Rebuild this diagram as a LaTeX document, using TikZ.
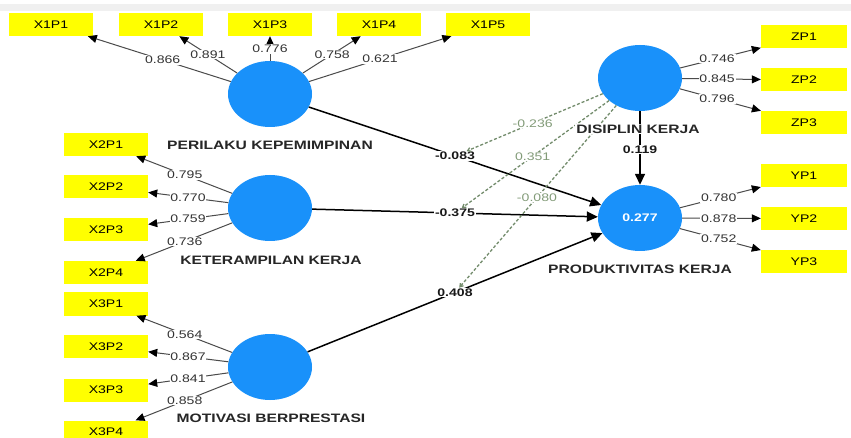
\documentclass[tikz,border=0pt]{standalone}
\usepackage{fontspec}
\newfontfamily\lfont{Liberation Sans}[FakeStretch=1.28]
\usetikzlibrary{shapes.geometric,arrows.meta}
\definecolor{lvblue}{RGB}{25,145,250}
\definecolor{boxyel}{RGB}{255,255,0}
\definecolor{modc}{RGB}{115,140,108}
\definecolor{modt}{RGB}{130,155,120}
\definecolor{loadc}{RGB}{75,75,75}
\begin{document}
\begin{tikzpicture}[x=1pt,y=-1pt,
 lv/.style={ellipse,fill=lvblue,minimum width=84pt,minimum height=66pt,inner sep=0pt},
 ind/.style={rectangle,fill=boxyel,minimum width=84pt,minimum height=23pt,inner sep=0pt,font=\lfont\fontsize{11}{13}\selectfont},
 indr/.style={ind,minimum width=86pt},
 lvname/.style={fill=white,inner sep=1pt,text=black!85,font=\lfont\bfseries\fontsize{12.2}{14}\selectfont},
 load/.style={draw=loadc,line width=1pt,-{Triangle[length=9pt,width=8pt,color=black]}},
 lbl/.style={fill=white,inner sep=0.8pt,text=black!80,font=\lfont\fontsize{11}{13}\selectfont},
 spath/.style={draw=black,line width=1.5pt,-{Triangle[length=11pt,width=10pt]}},
 plbl/.style={fill=white,inner sep=0.8pt,text=black!90,font=\lfont\bfseries\fontsize{11}{13}\selectfont},
 modl/.style={draw=modc,line width=1.3pt,dash pattern=on 3pt off 2pt,-{Straight Barb[length=3pt,width=4pt]}},
 mlbl/.style={fill=white,inner sep=0.5pt,text=modt,font=\lfont\fontsize{11}{13}\selectfont}]
\useasboundingbox (0,0) rectangle (851,438);
\fill[white] (0,0) rectangle (851,438);
\fill[black!6] (0,4) rectangle (851,11);

% latent variables
\node[lv] (X1) at (270,94) {};
\node[lv] (X2) at (270,208) {};
\node[lv] (X3) at (270,367) {};
\node[lv] (Z) at (640,78) {};
\node[lv,text=white,font=\lfont\bfseries\fontsize{11}{13}\selectfont] (Y) at (640,218) {0.277};

% indicators
\node[ind] (X1P1) at (51,24.5) {X1P1};
\node[ind] (X1P2) at (161,24.5) {X1P2};
\node[ind] (X1P3) at (270,24.5) {X1P3};
\node[ind] (X1P4) at (379,24.5) {X1P4};
\node[ind] (X1P5) at (488,24.5) {X1P5};
\node[ind] (X2P1) at (106,144.5) {X2P1};
\node[ind] (X2P2) at (106,187) {X2P2};
\node[ind] (X2P3) at (106,230) {X2P3};
\node[ind] (X2P4) at (106,272.5) {X2P4};
\node[ind] (X3P1) at (106,304) {X3P1};
\node[ind] (X3P2) at (106,346.5) {X3P2};
\node[ind] (X3P3) at (106,390) {X3P3};
\node[ind] (X3P4) at (106,432) {X3P4};
\node[indr] (ZP1) at (804,37) {ZP1};
\node[indr] (ZP2) at (804,80) {ZP2};
\node[indr] (ZP3) at (804,122.5) {ZP3};
\node[indr] (YP1) at (804,176) {YP1};
\node[indr] (YP2) at (804,218.5) {YP2};
\node[indr] (YP3) at (804,261.5) {YP3};

% outer loadings
\draw[load] (X1) -- (X1P1);
\draw[load] (X1) -- (X1P2);
\draw[load] (X1) -- (X1P3);
\draw[load] (X1) -- (X1P4);
\draw[load] (X1) -- (X1P5);
\path (X1.center) -- (X1P1.center) node[lbl,pos=0.49] {0.866};
\path (X1.center) -- (X1P2.center) node[lbl,pos=0.57] {0.891};
\path (X1.center) -- (X1P3.center) node[lbl,pos=0.65] {0.776};
\path (X1.center) -- (X1P4.center) node[lbl,pos=0.57] {0.758};
\path (X1.center) -- (X1P5.center) node[lbl,pos=0.505] {0.621};

\draw[load] (X2) -- (X2P1);
\draw[load] (X2) -- (X2P2);
\draw[load] (X2) -- (X2P3);
\draw[load] (X2) -- (X2P4);
\path (X2.center) -- (X2P1.center) node[lbl,pos=0.52] {0.795};
\path (X2.center) -- (X2P2.center) node[lbl,pos=0.5] {0.770};
\path (X2.center) -- (X2P3.center) node[lbl,pos=0.5] {0.759};
\path (X2.center) -- (X2P4.center) node[lbl,pos=0.52] {0.736};

\draw[load] (X3) -- (X3P1);
\draw[load] (X3) -- (X3P2);
\draw[load] (X3) -- (X3P3);
\draw[load] (X3) -- (X3P4);
\path (X3.center) -- (X3P1.center) node[lbl,pos=0.52] {0.564};
\path (X3.center) -- (X3P2.center) node[lbl,pos=0.5] {0.867};
\path (X3.center) -- (X3P3.center) node[lbl,pos=0.5] {0.841};
\path (X3.center) -- (X3P4.center) node[lbl,pos=0.52] {0.858};

\draw[load] (Z) -- (ZP1);
\draw[load] (Z) -- (ZP2);
\draw[load] (Z) -- (ZP3);
\path (Z.center) -- (ZP1.center) node[lbl,pos=0.47] {0.746};
\path (Z.center) -- (ZP2.center) node[lbl,pos=0.47] {0.845};
\path (Z.center) -- (ZP3.center) node[lbl,pos=0.47] {0.796};

\draw[load] (Y) -- (YP1);
\draw[load] (Y) -- (YP2);
\draw[load] (Y) -- (YP3);
\path (Y.center) -- (YP1.center) node[lbl,pos=0.48] {0.780};
\path (Y.center) -- (YP2.center) node[lbl,pos=0.48] {0.878};
\path (Y.center) -- (YP3.center) node[lbl,pos=0.48] {0.752};

% structural paths
\draw[spath] (X1) -- (Y);
\draw[spath] (X2) -- (Y);
\draw[spath] (X3) -- (Y);
\draw[spath] (Z) -- (Y);
\path (X1.center) -- (Y.center) node[plbl,pos=0.5] (l1) {-0.083};
\path (X2.center) -- (Y.center) node[plbl,pos=0.5] (l2) {-0.375};
\path (X3.center) -- (Y.center) node[plbl,pos=0.5] (l3) {0.408};
\path (Z.center) -- (Y.center) node[plbl,pos=0.51] (l4) {0.119};

% moderating effects
\draw[modl] (Z) -- (l1);
\draw[modl] (Z) -- (l2);
\draw[modl] (Z) -- (l3);
\path (Z.center) -- (l1.center) node[mlbl,pos=0.58] {-0.236};
\path (Z.center) -- (l2.center) node[mlbl,pos=0.58] {0.351};
\path (Z.center) -- (l3.center) node[mlbl,pos=0.557] {-0.080};

% latent names
\node[lvname] (n1) at (270,145) {PERILAKU KEPEMIMPINAN};
\node[lvname] (n2) at (271,260) {KETERAMPILAN KERJA};
\node[lvname] (n3) at (271,418) {MOTIVASI BERPRESTASI};
\node[lvname] (nz) at (638,129) {DISIPLIN KERJA};
\node[lvname] (ny) at (640,269) {PRODUKTIVITAS KERJA};
\end{tikzpicture}
\end{document}
